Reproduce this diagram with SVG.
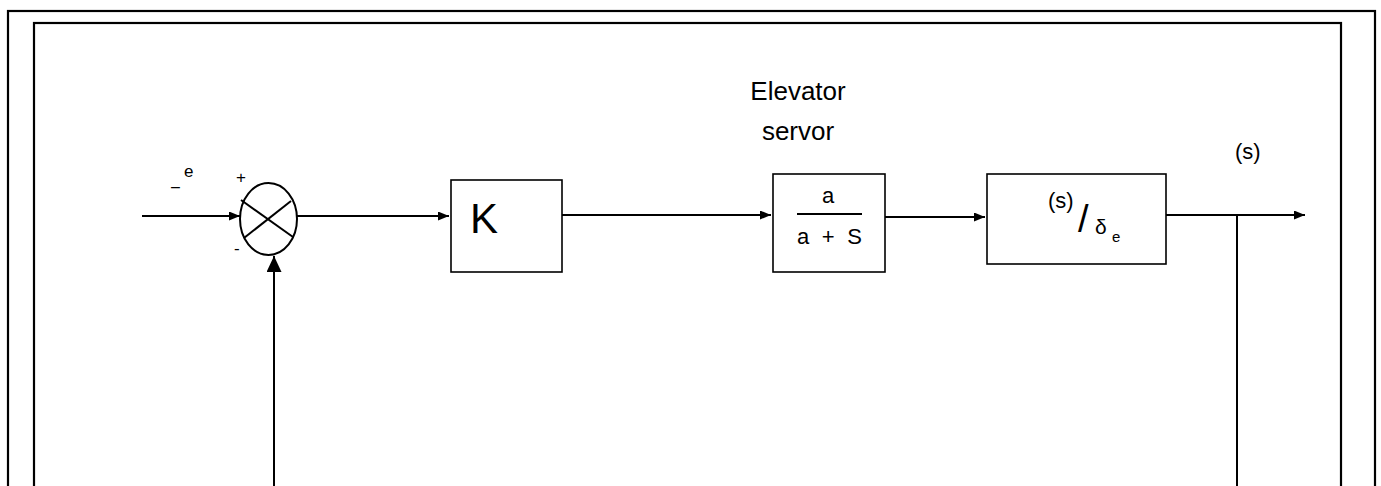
<svg xmlns="http://www.w3.org/2000/svg" width="1381" height="486" viewBox="0 0 1381 486">
<defs>
<marker id="ah" markerWidth="11" markerHeight="9" refX="11" refY="4.5" orient="auto" markerUnits="userSpaceOnUse">
<path d="M0,0 L11,4.5 L0,9 Z" fill="#000"/>
</marker>
<marker id="ahv" markerWidth="16" markerHeight="15" refX="16" refY="7.5" orient="auto" markerUnits="userSpaceOnUse">
<path d="M0,0 L16,7.5 L0,15 Z" fill="#000"/>
</marker>
<style>
.ln{stroke:#000;stroke-width:2;fill:none}
.bx{stroke:#000;stroke-width:1.6;fill:#fff}
.t{font-family:"Liberation Sans",Arial,sans-serif;fill:#000}
</style>
</defs>
<g id="frame">
<rect x="8" y="11" width="1367" height="490" fill="none" stroke="#000" stroke-width="2.2"/>
<rect x="34" y="23" width="1307" height="480" fill="none" stroke="#000" stroke-width="2.2"/>
</g>
<g id="connectors">
<line class="ln" x1="142" y1="216" x2="240" y2="216" marker-end="url(#ah)"/>
<line class="ln" x1="297" y1="216" x2="449" y2="216" marker-end="url(#ah)"/>
<line class="ln" x1="562" y1="215" x2="771" y2="215" marker-end="url(#ah)"/>
<line class="ln" x1="885" y1="217" x2="985" y2="217" marker-end="url(#ah)"/>
<line class="ln" x1="1166" y1="215" x2="1305" y2="215" marker-end="url(#ah)"/>
<line class="ln" x1="1237" y1="215" x2="1237" y2="486"/>
<line class="ln" x1="274" y1="486" x2="274" y2="256" marker-end="url(#ahv)"/>
</g>
<g id="sum">
<ellipse cx="268.5" cy="219" rx="28.5" ry="36" class="ln"/>
<line class="ln" x1="241" y1="200" x2="293" y2="237"/>
<line class="ln" x1="244" y1="238" x2="291" y2="201"/>
<text class="t" x="236" y="183" font-size="17">+</text>
<text class="t" x="234" y="254" font-size="17">-</text>
<text class="t" x="171" y="192" font-size="16">–</text>
<text class="t" x="184" y="177" font-size="17">e</text>
</g>
<g id="gain">
<rect class="bx" x="451" y="180" width="111" height="92"/>
<text class="t" x="470" y="233" font-size="42">K</text>
</g>
<g id="servo">
<rect class="bx" x="773" y="174" width="112" height="98"/>
<text class="t" x="828" y="203" font-size="22" text-anchor="middle">a</text>
<line x1="797" y1="214" x2="862" y2="214" stroke="#000" stroke-width="2"/>
<text class="t" x="797" y="244" font-size="22" textLength="65" lengthAdjust="spacing">a + S</text>
</g>
<g id="plant">
<rect class="bx" x="987" y="174" width="179" height="90"/>
<text class="t" x="1048" y="208" font-size="22">(s)</text>
<text class="t" x="1078" y="232" font-size="38">/</text>
<text class="t" x="1095" y="234" font-size="21">δ</text>
<text class="t" x="1112" y="242" font-size="15">e</text>
</g>
<g id="labels">
<text class="t" x="798" y="100" font-size="26" text-anchor="middle">Elevator</text>
<text class="t" x="798" y="140" font-size="26" text-anchor="middle">servor</text>
<text class="t" x="1235" y="159" font-size="22">(s)</text>
</g>
</svg>
